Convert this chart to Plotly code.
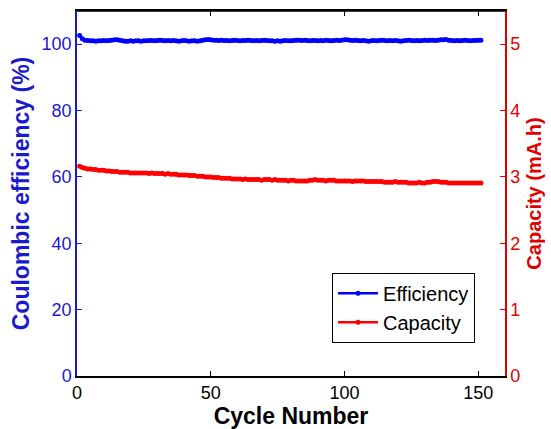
import plotly.graph_objects as go

cycles = list(range(1, 152))

efficiency = [
    102.6, 101.6, 101.2, 101.1, 101.0,
    101.0, 100.9, 101.0, 101.0, 101.1,
    101.0, 101.1, 101.2, 101.3, 101.3,
    101.2, 101.0, 100.9, 100.9, 101.0,
    100.9, 101.0, 101.0, 100.9, 101.0,
    101.0, 101.1, 101.1, 101.0, 101.1,
    101.2, 101.1, 101.0, 101.1, 101.0,
    101.1, 101.0, 100.9, 101.0, 101.1,
    101.0, 100.9, 101.0, 101.0, 100.9,
    101.0, 101.2, 101.3, 101.4, 101.3,
    101.2, 101.2, 101.1, 101.2, 101.1,
    101.1, 101.0, 101.1, 101.2, 101.1,
    101.0, 101.1, 101.1, 101.2, 101.1,
    101.0, 101.1, 101.0, 101.1, 101.2,
    101.1, 101.0, 101.0, 100.9, 101.0,
    100.9, 101.0, 101.1, 101.0, 101.0,
    101.1, 101.2, 101.2, 101.1, 101.2,
    101.1, 101.0, 101.1, 101.1, 101.0,
    101.1, 101.0, 101.2, 101.1, 101.0,
    101.1, 101.2, 101.1, 101.2, 101.3,
    101.3, 101.2, 101.1, 101.2, 101.1,
    101.0, 101.1, 101.0, 100.9, 101.0,
    101.1, 101.0, 101.1, 101.2, 101.1,
    101.0, 101.1, 101.0, 101.1, 101.0,
    100.9, 101.0, 101.1, 101.2, 101.1,
    101.0, 101.1, 101.0, 101.1, 101.2,
    101.1, 101.2, 101.2, 101.1, 101.2,
    101.3, 101.3, 101.4, 101.2, 101.1,
    101.0, 101.1, 101.0, 101.1, 101.2,
    101.1, 101.0, 101.1, 101.1, 101.2,
    101.2,
]

capacity = [
    3.16, 3.14, 3.13, 3.12, 3.12,
    3.11, 3.11, 3.10, 3.10, 3.10,
    3.09, 3.09, 3.08, 3.08, 3.08,
    3.07, 3.07, 3.07, 3.07, 3.06,
    3.06, 3.06, 3.06, 3.06, 3.06,
    3.06, 3.05, 3.06, 3.05, 3.05,
    3.05, 3.05, 3.04, 3.05, 3.04,
    3.04, 3.04, 3.03, 3.03, 3.03,
    3.03, 3.02, 3.02, 3.02, 3.01,
    3.01, 3.01, 3.00, 3.00, 3.00,
    2.99, 2.99, 2.99, 2.98, 2.98,
    2.98, 2.98, 2.97, 2.97, 2.97,
    2.97, 2.96, 2.97, 2.96, 2.96,
    2.96, 2.96, 2.96, 2.95, 2.96,
    2.96, 2.96, 2.95, 2.96, 2.95,
    2.95, 2.95, 2.95, 2.94, 2.95,
    2.95, 2.94, 2.94, 2.94, 2.94,
    2.94, 2.95, 2.95, 2.96, 2.95,
    2.95, 2.95, 2.94, 2.95, 2.95,
    2.95, 2.94, 2.94, 2.94, 2.94,
    2.94, 2.94, 2.93, 2.94, 2.94,
    2.94, 2.94, 2.93, 2.93, 2.93,
    2.93, 2.93, 2.93, 2.93, 2.92,
    2.92, 2.92, 2.92, 2.93, 2.92,
    2.92, 2.92, 2.92, 2.91, 2.91,
    2.91, 2.91, 2.92, 2.91, 2.91,
    2.92, 2.92, 2.93, 2.93, 2.93,
    2.92, 2.92, 2.92, 2.91, 2.91,
    2.91, 2.91, 2.91, 2.91, 2.91,
    2.91, 2.91, 2.91, 2.91, 2.91,
    2.91,
]

x_ticks = [0, 50, 100, 150]
y1_ticks = [0, 20, 40, 60, 80, 100]
y2_ticks = [0, 1, 2, 3, 4, 5]

BLUE = "#0000ff"
BLUE_AX = "#1a1acc"
RED = "#ff0000"
RED_AX = "#e00000"
FONT = "Liberation Sans, Arial, sans-serif"

fig = go.Figure()
fig.add_trace(go.Scatter(
    x=cycles, y=efficiency, name="Efficiency", mode="lines+markers",
    line=dict(color=BLUE, width=2.5), marker=dict(color=BLUE, size=5),
    yaxis="y",
))
fig.add_trace(go.Scatter(
    x=cycles, y=capacity, name="Capacity", mode="lines+markers",
    line=dict(color=RED, width=2.5), marker=dict(color=RED, size=5),
    yaxis="y2",
))

fig.update_layout(
    width=551, height=429,
    margin=dict(l=77, r=46, t=9, b=53),
    paper_bgcolor="white", plot_bgcolor="white",
    font=dict(family=FONT, size=18, color="black"),
    showlegend=True,
    legend=dict(
        x=0.93, y=0.283, xanchor="right", yanchor="top",
        bgcolor="white", bordercolor="black", borderwidth=1,
        font=dict(size=20, color="black"),
        itemwidth=40, tracegroupgap=0,
    ),
    xaxis=dict(
        range=[0, 160], tickvals=x_ticks, ticks="inside", ticklen=5,
        tickcolor="black", showline=True, linecolor="black", linewidth=1.5,
        mirror="ticks", showgrid=False, zeroline=False,
        tickfont=dict(size=18, color="black"),
        title=dict(text="<b>Cycle Number</b>", font=dict(size=23, color="black"), standoff=0),
    ),
    yaxis=dict(
        range=[0, 110], tickvals=y1_ticks, ticks="inside", ticklen=5,
        tickcolor=BLUE_AX, showline=True, linecolor=BLUE_AX, linewidth=1.5,
        showgrid=False, zeroline=False,
        tickfont=dict(size=18, color=BLUE_AX),
        title=dict(text="<b>Coulombic efficiency (%)</b>", font=dict(size=23, color=BLUE_AX), standoff=6),
    ),
    yaxis2=dict(
        range=[0, 5.5], tickvals=y2_ticks, ticks="inside", ticklen=5,
        overlaying="y", side="right",
        tickcolor=RED_AX, showline=True, linecolor=RED_AX, linewidth=1.5,
        showgrid=False, zeroline=False,
        tickfont=dict(size=18, color=RED_AX),
        title=dict(text="<b>Capacity (mA.h)</b>", font=dict(size=20, color=RED_AX), standoff=8),
    ),
)

# top border line
fig.add_shape(type="line", xref="paper", yref="paper", x0=0, x1=1, y0=1, y1=1,
              line=dict(color="black", width=1.5))

fig.write_html("out.html")
